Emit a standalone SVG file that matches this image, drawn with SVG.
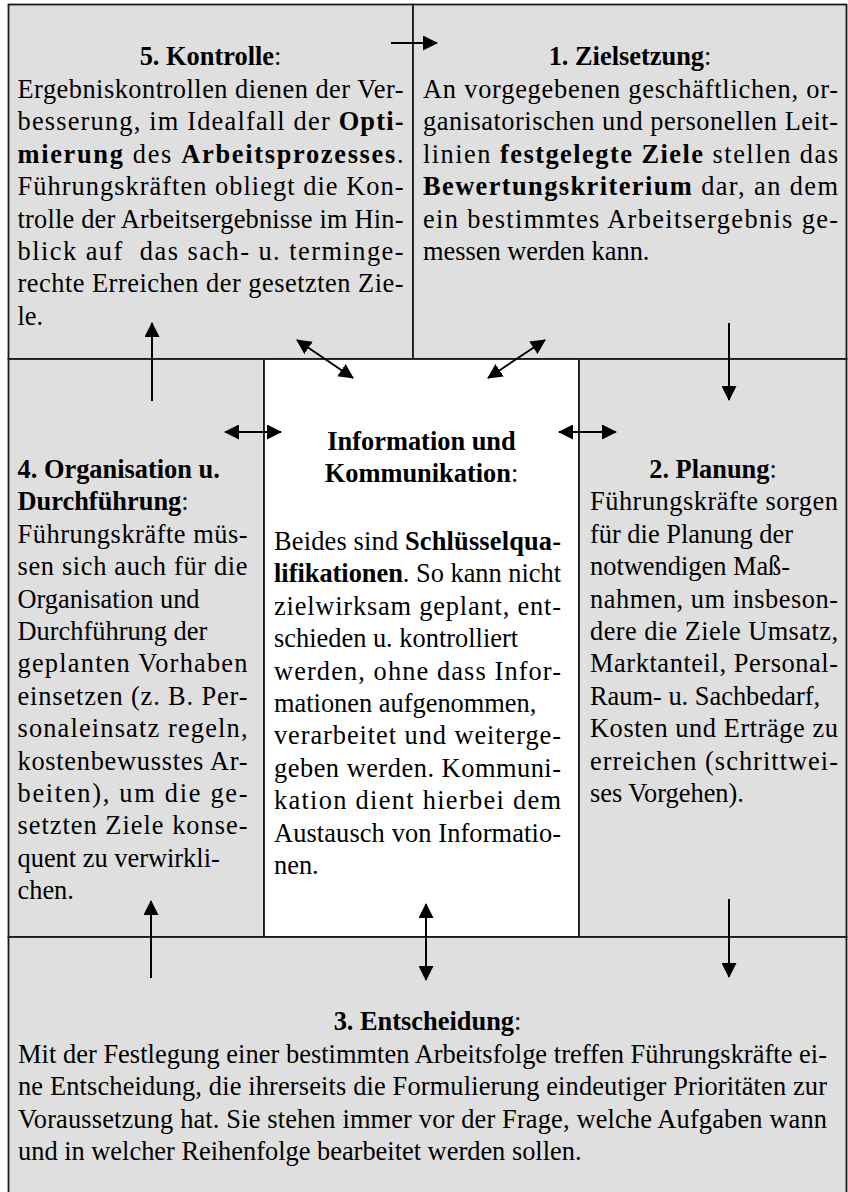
<svg xmlns="http://www.w3.org/2000/svg" width="848" height="1192" viewBox="0 0 848 1192">
<style>
.box{fill:#dfdfdf;stroke:#1a1a1a;stroke-width:1.8}
.white{fill:#ffffff;stroke:#1a1a1a;stroke-width:1.8}
text{font-family:'Liberation Serif','Times New Roman',serif;font-size:26.4px;fill:#000}
.b{font-weight:bold}
.c{text-anchor:middle}
.arr{stroke:#000;stroke-width:2;fill:none}
</style>
<defs>
<marker id="ah" markerUnits="userSpaceOnUse" viewBox="0 0 15 15" refX="14" refY="7.5" markerWidth="15" markerHeight="15" orient="auto-start-reverse">
<path d="M0,0 L15,7.5 L0,15 z" fill="#000"/>
</marker>
</defs>

<g id="node-kontrolle">
<rect class="box" x="8.5" y="4.5" width="404.5" height="354.5"/>
<text class="c" x="210.5" y="65"><tspan class="b">5. Kontrolle</tspan>:</text>
<text x="17.5" y="98" textLength="386" lengthAdjust="spacing">Ergebniskontrollen dienen der Ver-</text>
<text x="17.5" y="130.4" textLength="386" lengthAdjust="spacing">besserung, im Idealfall der <tspan class="b">Opti-</tspan></text>
<text x="17.5" y="162.8" textLength="386" lengthAdjust="spacing"><tspan class="b">mierung</tspan> des <tspan class="b">Arbeitsprozesses</tspan>.</text>
<text x="17.5" y="195.2" textLength="386" lengthAdjust="spacing">Führungskräften obliegt die Kon-</text>
<text x="17.5" y="227.6" textLength="386" lengthAdjust="spacing">trolle der Arbeitsergebnisse im Hin-</text>
<text x="17.5" y="260" textLength="386" lengthAdjust="spacing">blick auf&#160; das sach- u. terminge-</text>
<text x="17.5" y="292.4" textLength="386" lengthAdjust="spacing">rechte Erreichen der gesetzten Zie-</text>
<text x="17.5" y="324.8">le.</text>
</g>

<g id="node-zielsetzung">
<rect class="box" x="413" y="4.5" width="433.5" height="354.5"/>
<text class="c" x="630" y="65"><tspan class="b">1. Zielsetzung</tspan>:</text>
<text x="423" y="98" textLength="415" lengthAdjust="spacing">An vorgegebenen geschäftlichen, or-</text>
<text x="423" y="130.4" textLength="415" lengthAdjust="spacing">ganisatorischen und personellen Leit-</text>
<text x="423" y="162.8" textLength="415" lengthAdjust="spacing">linien <tspan class="b">festgelegte Ziele</tspan> stellen das</text>
<text x="423" y="195.2" textLength="415" lengthAdjust="spacing"><tspan class="b">Bewertungskriterium</tspan> dar, an dem</text>
<text x="423" y="227.6" textLength="415" lengthAdjust="spacing">ein bestimmtes Arbeitsergebnis ge-</text>
<text x="423" y="260">messen werden kann.</text>
</g>

<g id="node-organisation">
<rect class="box" x="8.5" y="359" width="255.5" height="578"/>
<text class="b" x="17.5" y="478">4. Organisation u.</text>
<text x="17.5" y="510.4"><tspan class="b">Durchführung</tspan>:</text>
<text x="17.5" y="542.8" textLength="230" lengthAdjust="spacing">Führungskräfte müs-</text>
<text x="17.5" y="575.2" textLength="230" lengthAdjust="spacing">sen sich auch für die</text>
<text x="17.5" y="607.6">Organisation und</text>
<text x="17.5" y="640">Durchführung der</text>
<text x="17.5" y="672.4" textLength="230" lengthAdjust="spacing">geplanten Vorhaben</text>
<text x="17.5" y="704.8" textLength="230" lengthAdjust="spacing">einsetzen (z. B. Per-</text>
<text x="17.5" y="737.2" textLength="230" lengthAdjust="spacing">sonaleinsatz regeln,</text>
<text x="17.5" y="769.6" textLength="230" lengthAdjust="spacing">kostenbewusstes Ar-</text>
<text x="17.5" y="802" textLength="230" lengthAdjust="spacing">beiten), um die ge-</text>
<text x="17.5" y="834.4" textLength="230" lengthAdjust="spacing">setzten Ziele konse-</text>
<text x="17.5" y="866.8">quent zu verwirkli-</text>
<text x="17.5" y="899.2">chen.</text>
</g>

<g id="node-information">
<rect class="white" x="264" y="359" width="315" height="578"/>
<text class="b c" x="421.5" y="450">Information und</text>
<text class="c" x="421.5" y="482.4"><tspan class="b">Kommunikation</tspan>:</text>
<text x="274" y="550" textLength="287" lengthAdjust="spacing">Beides sind <tspan class="b">Schlüsselqua-</tspan></text>
<text x="274" y="582.4" textLength="287" lengthAdjust="spacing"><tspan class="b">lifikationen</tspan>. So kann nicht</text>
<text x="274" y="614.8" textLength="287" lengthAdjust="spacing">zielwirksam geplant, ent-</text>
<text x="274" y="647.2">schieden u. kontrolliert</text>
<text x="274" y="679.6" textLength="287" lengthAdjust="spacing">werden, ohne dass Infor-</text>
<text x="274" y="712">mationen aufgenommen,</text>
<text x="274" y="744.4" textLength="287" lengthAdjust="spacing">verarbeitet und weiterge-</text>
<text x="274" y="776.8" textLength="287" lengthAdjust="spacing">geben werden. Kommuni-</text>
<text x="274" y="809.2" textLength="287" lengthAdjust="spacing">kation dient hierbei dem</text>
<text x="274" y="841.6" textLength="287" lengthAdjust="spacing">Austausch von Informatio-</text>
<text x="274" y="874">nen.</text>
</g>

<g id="node-planung">
<rect class="box" x="579" y="359" width="267.5" height="578"/>
<text class="c" x="713" y="478"><tspan class="b">2. Planung</tspan>:</text>
<text x="590" y="510.4" textLength="248" lengthAdjust="spacing">Führungskräfte sorgen</text>
<text x="590" y="542.8">für die Planung der</text>
<text x="590" y="575.2">notwendigen Maß-</text>
<text x="590" y="607.6" textLength="248" lengthAdjust="spacing">nahmen, um insbeson-</text>
<text x="590" y="640" textLength="248" lengthAdjust="spacing">dere die Ziele Umsatz,</text>
<text x="590" y="672.4" textLength="248" lengthAdjust="spacing">Marktanteil, Personal-</text>
<text x="590" y="704.8">Raum- u. Sachbedarf,</text>
<text x="590" y="737.2" textLength="248" lengthAdjust="spacing">Kosten und Erträge zu</text>
<text x="590" y="769.6" textLength="248" lengthAdjust="spacing">erreichen (schrittwei-</text>
<text x="590" y="802">ses Vorgehen).</text>
</g>

<g id="node-entscheidung">
<rect class="box" x="8.5" y="937" width="838" height="270"/>
<text class="c" x="427.5" y="1030"><tspan class="b">3. Entscheidung</tspan>:</text>
<text x="18" y="1062.5" textLength="809" lengthAdjust="spacing">Mit der Festlegung einer bestimmten Arbeitsfolge treffen Führungskräfte ei-</text>
<text x="18" y="1095" textLength="809" lengthAdjust="spacing">ne Entscheidung, die ihrerseits die Formulierung eindeutiger Prioritäten zur</text>
<text x="18" y="1127.5" textLength="809" lengthAdjust="spacing">Voraussetzung hat. Sie stehen immer vor der Frage, welche Aufgaben wann</text>
<text x="18" y="1160">und in welcher Reihenfolge bearbeitet werden sollen.</text>
</g>

<g id="connectors">
<path class="arr" d="M391,43 L437,43" marker-end="url(#ah)"/>
<path class="arr" d="M152,401 L152,323" marker-end="url(#ah)"/>
<path class="arr" d="M729,323 L729,400" marker-end="url(#ah)"/>
<path class="arr" d="M297,340 L353,378" marker-start="url(#ah)" marker-end="url(#ah)"/>
<path class="arr" d="M545,340 L488,378" marker-start="url(#ah)" marker-end="url(#ah)"/>
<path class="arr" d="M225,432 L281,432" marker-start="url(#ah)" marker-end="url(#ah)"/>
<path class="arr" d="M559,432 L616,432" marker-start="url(#ah)" marker-end="url(#ah)"/>
<path class="arr" d="M151,978 L151,901" marker-end="url(#ah)"/>
<path class="arr" d="M426,904 L426,980" marker-start="url(#ah)" marker-end="url(#ah)"/>
<path class="arr" d="M729,899 L729,977" marker-end="url(#ah)"/>
</g>
</svg>
